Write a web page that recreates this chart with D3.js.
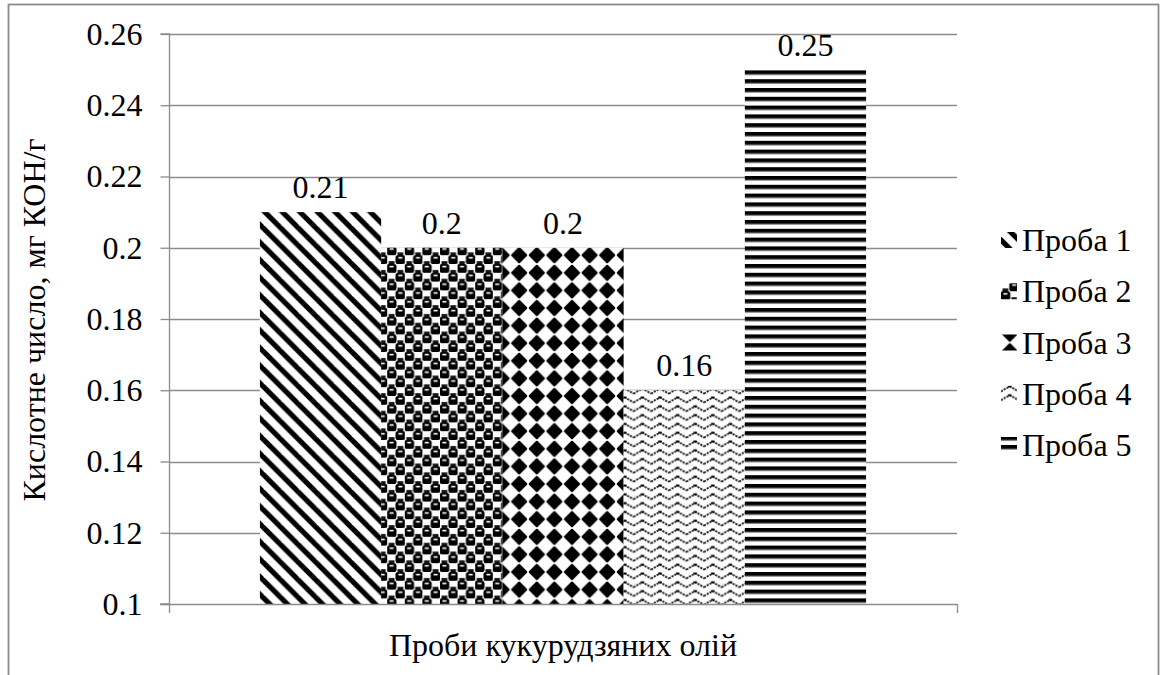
<!DOCTYPE html>
<html><head><meta charset="utf-8">
<script src="https://cdn.jsdelivr.net/npm/d3@7"></script>
<style>body{margin:0;background:#fff}svg{display:block}svg text{font-family:'Liberation Serif','Times New Roman',Tinos,'DejaVu Serif',serif !important;fill:#000}</style>
</head><body><svg id="c" width="1163" height="675"></svg>
<script>
const series = ["Проба 1","Проба 2","Проба 3","Проба 4","Проба 5"];
const values = [0.21, 0.2, 0.2, 0.16, 0.25];
const valueLabels = ["0.21","0.2","0.2","0.16","0.25"];
const yTicks = [0.1,0.12,0.14,0.16,0.18,0.2,0.22,0.24,0.26];
const yTickLabels = ["0.1","0.12","0.14","0.16","0.18","0.2","0.22","0.24","0.26"];
const yTitle = "Кислотне число, мг КОН/г";
const xTitle = "Проби кукурудзяних олій";

const FONT = "'Liberation Serif','Times New Roman',Tinos,'DejaVu Serif',serif";
const FS = 32;
const svg = d3.select("#c");
const W=1163,H=675;
const L=169,R=957,T=34,B=604;
const P=17.6, h=P/2;
const defs = svg.append("defs");
// pattern 1: wide downward diagonal
let p = defs.append("pattern").attr("id","pat0").attr("patternUnits","userSpaceOnUse").attr("width",P).attr("height",P);
p.append("rect").attr("width",P).attr("height",P).attr("fill","#fff");
[-P,0,P].forEach(dx=>p.append("line").attr("x1",dx-2).attr("y1",-2).attr("x2",dx+P+2).attr("y2",P+2).attr("stroke","#000").attr("stroke-width",5.2));
// pattern 2: sphere checker
p = defs.append("pattern").attr("id","pat1").attr("patternUnits","userSpaceOnUse").attr("width",P).attr("height",P);
p.append("rect").attr("width",P).attr("height",P).attr("fill","#fff");
[[0,0],[h,h]].forEach(([x,y])=>{
  p.append("rect").attr("x",x-0.5).attr("y",y).attr("width",h+1).attr("height",h).attr("rx",2.5).attr("fill","#000");
  p.append("rect").attr("x",x+2.4).attr("y",y+1.8).attr("width",4).attr("height",1.6).attr("fill","#fff");
});
[[h,0],[0,h]].forEach(([x,y])=>{
  p.append("rect").attr("x",x+1.5).attr("y",y+6).attr("width",h-3).attr("height",2.8).attr("fill","#111");
});
// pattern 3: solid diamond
p = defs.append("pattern").attr("id","pat2").attr("patternUnits","userSpaceOnUse").attr("width",P).attr("height",P);
p.append("rect").attr("width",P).attr("height",P).attr("fill","#fff");
p.append("path").attr("d",`M${h},${h-7}L${h+7},${h}L${h},${h+7}L${h-7},${h}Z`).attr("fill","#000").attr("stroke","#000").attr("stroke-width",2.2).attr("stroke-linejoin","round");
// pattern 4: wave
p = defs.append("pattern").attr("id","pat3").attr("patternUnits","userSpaceOnUse").attr("width",P).attr("height",h);
p.append("rect").attr("width",P).attr("height",h).attr("fill","#fff");
p.append("path").attr("d",`M0,6.5L${P/4},3.8L${P/2},1.5L${3*P/4},3.8L${P},6.5`).attr("fill","none").attr("stroke","#222").attr("stroke-width",1.9).attr("stroke-dasharray","2.2,1");
p.append("rect").attr("x",P/2-1.8).attr("y",0.6).attr("width",3.6).attr("height",1.8).attr("fill","#000");
// pattern 5: dark horizontal
p = defs.append("pattern").attr("id","pat4").attr("patternUnits","userSpaceOnUse").attr("width",P).attr("height",h);
p.append("rect").attr("width",P).attr("height",h).attr("fill","#fff");
p.append("rect").attr("y",0).attr("width",P).attr("height",3.8).attr("fill","#000");
p.append("rect").attr("y",3.8).attr("width",P).attr("height",1).attr("fill","#888");

// outer border
svg.append("rect").attr("x",8.5).attr("y",4.5).attr("width",1150).attr("height",H+20).attr("fill","none").attr("stroke","#8c8c8c").attr("stroke-width",1.8);

const y = d3.scaleLinear().domain([0.1,0.26]).range([B,T]);
const x = d3.scaleBand().domain(series).range([L,R]).paddingInner(0).paddingOuter(0.75);

// gridlines
svg.append("g").selectAll("line").data(yTicks.slice(1)).join("line")
  .attr("x1",L).attr("x2",R).attr("y1",d=>Math.round(y(d))+0.5).attr("y2",d=>Math.round(y(d))+0.5)
  .attr("stroke","#8c8c8c").attr("stroke-width",1.3);

// y axis
const yAxis = d3.axisLeft(y).tickValues(yTicks).tickFormat((d,i)=>yTickLabels[i]).tickSize(9).tickPadding(18);
const gy = svg.append("g").attr("transform",`translate(${L+0.5},0)`).call(yAxis).attr("font-family",FONT);
gy.select(".domain").attr("stroke","#8c8c8c").attr("stroke-width",1.3).attr("d",`M-9,${T}H0V${B}H-9`);
gy.selectAll(".tick line").attr("stroke","#8c8c8c").attr("stroke-width",1.3);
gy.selectAll(".tick text").attr("font-size",FS).attr("font-family",FONT).attr("fill","#000");

// bars
svg.append("g").selectAll("rect").data(series).join("rect")
  .attr("x",d=>x(d)).attr("width",x.bandwidth())
  .attr("y",(d,i)=>y(values[i])).attr("height",(d,i)=>B-y(values[i]))
  .attr("fill",(d,i)=>`url(#pat${i})`);

// x axis
const gx = svg.append("g");
gx.append("line").attr("x1",L-9).attr("x2",R).attr("y1",B+0.5).attr("y2",B+0.5).attr("stroke","#8c8c8c").attr("stroke-width",1.3);
[L,R].forEach(v=>gx.append("line").attr("x1",v+0.5).attr("x2",v+0.5).attr("y1",B).attr("y2",B+9).attr("stroke","#8c8c8c").attr("stroke-width",1.3));

// value labels
svg.append("g").selectAll("text").data(series).join("text")
  .attr("x",d=>x(d)+x.bandwidth()/2).attr("y",(d,i)=>y(values[i])-14)
  .attr("text-anchor","middle").attr("font-size",FS).attr("font-family",FONT).text((d,i)=>valueLabels[i]);

// titles
svg.append("text").attr("transform",`translate(45,320) rotate(-90)`).attr("text-anchor","middle").attr("font-size",FS).attr("font-family",FONT).text(yTitle);
svg.append("text").attr("x",563).attr("y",656).attr("text-anchor","middle").attr("font-size",FS).attr("font-family",FONT).text(xTitle);

// legend
const ly = d3.scalePoint().domain(series).range([240,445]);
const lg = svg.append("g").selectAll("g").data(series).join("g").attr("transform",d=>`translate(1001,${ly(d)})`);
lg.append("rect").attr("x",0).attr("y",-8).attr("width",16).attr("height",16).attr("fill",(d,i)=>`url(#pat${i})`);
lg.append("text").attr("x",21).attr("y",11).attr("font-size",FS).attr("font-family",FONT).text(d=>d);
</script></body></html>
